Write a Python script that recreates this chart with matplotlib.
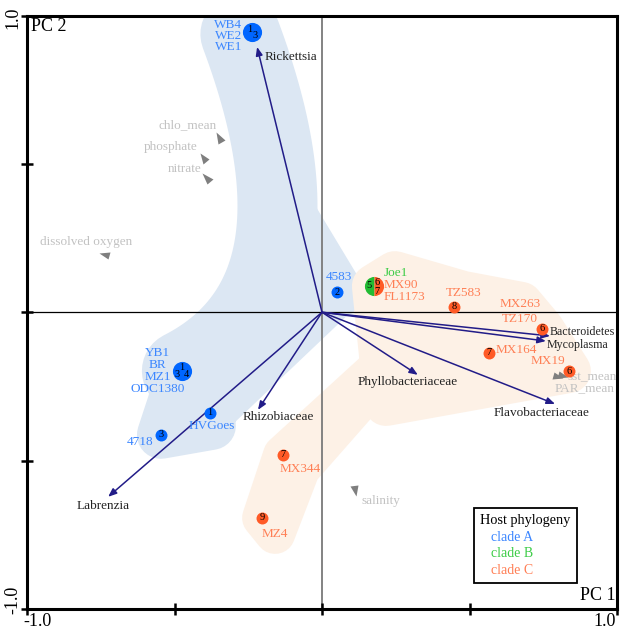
import numpy as np
import matplotlib
matplotlib.use("Agg")
import matplotlib.pyplot as plt
from matplotlib.lines import Line2D
from matplotlib.markers import MarkerStyle
from matplotlib.transforms import Affine2D
from matplotlib.patches import Polygon

plt.rcParams['font.family'] = ['Liberation Serif', 'DejaVu Serif']

# site groups (PCA scores)
groups = ['WB4', '4583', 'YB1', 'HVGoes', '4718', 'Joe1',
          'TZ583', 'MX263', 'MX164', 'MX19', 'MX344', 'MZ4']
pc1 = [-0.236, 0.051, -0.475, -0.380, -0.546, 0.176,
       0.447, 0.746, 0.566, 0.837, -0.132, -0.203]
pc2 = [0.944, 0.068, -0.198, -0.339, -0.413, 0.088,
       0.018, -0.056, -0.137, -0.198, -0.481, -0.693]
members = [['WB4', 'WE2', 'WE1'], ['4583'], ['YB1', 'BR', 'MZ1', 'ODC1380'],
           ['HVGoes'], ['4718'], ['Joe1', 'MX90', 'FL1173'], ['TZ583'],
           ['MX263', 'TZ170'], ['MX164'], ['MX19'], ['MX344'], ['MZ4']]
member_clade = [['A', 'A', 'A'], ['A'], ['A', 'A', 'A', 'A'], ['A'], ['A'],
                ['B', 'C', 'C'], ['C'], ['C', 'C'], ['C'], ['C'], ['C'], ['C']]
genotypes = [['1', '3'], ['2'], ['1', '3', '4'], ['1'], ['3'], ['5', '6', '7'],
             ['8'], ['6'], ['7'], ['6'], ['7'], ['9']]

# bacterial taxa vectors
taxa = ['Rickettsia', 'Labrenzia', 'Rhizobiaceae', 'Phyllobacteriaceae',
        'Flavobacteriaceae', 'Bacteroidetes', 'Mycoplasma']
taxa_x = [-0.220, -0.725, -0.217, 0.325, 0.790, 0.773, 0.759]
taxa_y = [0.894, -0.622, -0.329, -0.211, -0.309, -0.080, -0.097]

# environmental vectors
env = ['chlo_mean', 'phosphate', 'nitrate', 'dissolved oxygen',
       'sst_mean', 'PAR_mean', 'salinity']
env_x = [-0.349, -0.403, -0.393, -0.739, 0.817, 0.800, 0.112]
env_y = [0.591, 0.523, 0.456, 0.196, -0.215, -0.218, -0.602]

clades = ['clade A', 'clade B', 'clade C']
pt_col = {'A': '#0066ff', 'B': '#22bb33', 'C': '#ff5a26'}
txt_col = {'A': '#3b86ff', 'B': '#3ccc46', 'C': '#ff7f55'}
hull_col = {'A': '#dce7f3', 'C': '#fdf1e6'}
navy = '#221c88'

fig = plt.figure(figsize=(6.2, 6.31), dpi=100)
ax = fig.add_axes([27/620, 22/631, 590/620, 593.5/631])
ax.set_xlim(-1, 1)
ax.set_ylim(-1, 1)

PX = 2/590
PY = 2/593.5
pos = {g: np.array([x, y]) for g, x, y in zip(groups, pc1, pc2)}


def shift(p, dx, dy):
    # dx, dy in pixels, dy downwards
    return np.array([p[0] + dx*PX, p[1] - dy*PY])


def blob(pts, r, color, fill=True):
    pts = np.asarray(pts)
    lw = 2*r*0.72
    if fill:
        ax.add_patch(Polygon(pts, closed=True, fc=color, ec=color, lw=lw,
                             joinstyle='round', zorder=0.5))
    else:
        ax.plot(pts[:, 0], pts[:, 1], color=color, lw=lw,
                solid_capstyle='round', solid_joinstyle='round', zorder=0.5)


# hull of clade A
t = np.linspace(0, 1, 60)[:, None]
start = shift(pos['WB4'], -12, 2)
bez = (1-t)**2*start + 2*t*(1-t)*pos['4583'] + t**2*pos['YB1']
blob(bez, 40, hull_col['A'], fill=False)
b35 = 0.65**2*start + 2*0.35*0.65*pos['4583'] + 0.35**2*pos['YB1']
blob([pos['4583'], b35], 26, hull_col['A'], fill=False)
blob([pos['4583'], pos['HVGoes'], shift(pos['HVGoes'], 2, 13),
      pos['4718'], pos['YB1']], 24, hull_col['A'])

# hull of clade C
low = (pos['MX164'] + pos['MX344'])/2
top = (pos['Joe1'] + pos['MX164'])/2
blob([pos['Joe1'], shift(pos['Joe1'], 21, -13), shift(pos['TZ583'], 9, -14),
      shift(pos['MX263'], -21, -25), pos['MX263'], pos['MX19'], low],
     22, hull_col['C'])
blob([top, shift(pos['MX344'], 17, 14), shift(pos['MZ4'], 13, 16),
      pos['MZ4'], pos['MX344']], 20, hull_col['C'])

ax.axvline(0, color='#7a7a7a', lw=1.3, zorder=1)
ax.axhline(0, color='black', lw=0.9, zorder=1)

# taxa arrows
tax_lab = {'Rickettsia': (8, 10, 'left', 9.5), 'Labrenzia': (-5, 9, 'center', 9.5),
           'Rhizobiaceae': (20, 7, 'center', 9.5),
           'Phyllobacteriaceae': (-10, 7, 'center', 9.5),
           'Flavobacteriaceae': (-14, 9, 'center', 9.5),
           'Bacteroidetes': (0, -4, 'left', 8.6), 'Mycoplasma': (1, 4, 'left', 8.6)}
for name, x, y in zip(taxa, taxa_x, taxa_y):
    ax.annotate('', xy=(x, y), xytext=(0, 0), zorder=2,
                arrowprops=dict(arrowstyle='-|>,head_length=0.5,head_width=0.2',
                                color=navy, lw=1.1, shrinkA=0, shrinkB=0))
    dx, dy, ha, fs = tax_lab[name]
    ax.annotate(name, (x, y), xytext=(dx*0.72, -dy*0.72),
                textcoords='offset points', ha=ha, va='center',
                fontsize=fs, color='#222222', zorder=4)

# environmental arrowheads
env_lab = {'chlo_mean': (-2, -12, 'right'), 'phosphate': (-6, -10, 'right'),
           'nitrate': (-5, -8, 'right'), 'dissolved oxygen': (-18, -12, 'center'),
           'sst_mean': (4, 1, 'left'), 'PAR_mean': (-3, 11, 'left'),
           'salinity': (6, 10, 'left')}
for name, x, y in zip(env, env_x, env_y):
    ang = np.degrees(np.arctan2(y, x))
    m = MarkerStyle('^', transform=Affine2D().scale(0.8, 1.15).rotate_deg(ang - 90))
    ax.plot(x, y, marker=m, ms=7, color='#7f7f7f', mec='none', zorder=2)
    dx, dy, ha = env_lab[name]
    ax.annotate(name, (x, y), xytext=(dx*0.72, -dy*0.72),
                textcoords='offset points', ha=ha, va='center',
                fontsize=9.5, color='#c2c2c2', zorder=2.5)

# site points, genotype numbers and names
name_lay = {'WB4': (-10, -7.5, 11, 'right'), '4583': (2, -15, 12, 'center'),
            'YB1': (-24, -18.5, 12.2, 'center'), 'HVGoes': (2, 13, 12, 'center'),
            '4718': (-21, 7, 12, 'center'), 'Joe1': (10, -13, 12, 'left'),
            'TZ583': (9.5, -14, 12, 'center'), 'MX263': (-22, -25, 15, 'center'),
            'MX164': (7, -3, 12, 'left'), 'MX19': (-21, -10, 12, 'center'),
            'MX344': (17, 14, 12, 'center'), 'MZ4': (13, 16, 12, 'center')}
num_lay = {'WB4': [(-3, -3), (3, 3)], 'YB1': [(0, -4), (-5, 3), (5, 3)],
           'Joe1': [(-5, -1), (3, -4), (3, 5)]}

for g, x, y, names, cl, nums in zip(groups, pc1, pc2, members, member_clade, genotypes):
    ms = 8.6 if len(nums) == 1 else 13.8
    if len(set(cl)) > 1:
        ax.plot(x, y, 'o', ms=ms, fillstyle='left', mfc=pt_col[cl[0]],
                mfcalt=pt_col[cl[1]], mec='none', zorder=3)
    else:
        ax.plot(x, y, 'o', ms=ms, color=pt_col[cl[0]], mec='none', zorder=3)
    for n, (dx, dy) in zip(nums, num_lay.get(g, [(0, 0)])):
        ax.annotate(n, (x, y), xytext=(dx*0.72, -dy*0.72), textcoords='offset points',
                    ha='center', va='center', fontsize=7.5, color='black', zorder=4)
    dx, dy0, sp, ha = name_lay[g]
    for i, (nm, c) in enumerate(zip(names, cl)):
        ax.annotate(nm, (x, y), xytext=(dx*0.72, -(dy0 + i*sp)*0.72),
                    textcoords='offset points', ha=ha, va='center',
                    fontsize=9.5, color=txt_col[c], zorder=4)

# axes frame
ax.set_xticks([-1, -0.5, 0, 0.5, 1])
ax.set_yticks([-1, -0.5, 0, 0.5, 1])
ax.set_xticklabels([])
ax.set_yticklabels([])
ax.tick_params(direction='inout', length=8, width=1.8, color='black')
for s in ax.spines.values():
    s.set_linewidth(2.2)

fig.text(37/620, 1 - 622/631, '-1.0', ha='center', va='center', fontsize=13)
fig.text(605/620, 1 - 622/631, '1.0', ha='center', va='center', fontsize=13)
fig.text(13/620, 1 - 18/631, '1.0', ha='center', va='center', fontsize=13, rotation=90)
fig.text(13/620, 1 - 600/631, '-1.0', ha='center', va='center', fontsize=13, rotation=90)
ax.text(0.007, 0.981, 'PC 2', transform=ax.transAxes, ha='left', va='center', fontsize=13)
ax.text(0.997, 0.022, 'PC 1', transform=ax.transAxes, ha='right', va='center', fontsize=13)

handles = [Line2D([], [], ls='none') for _ in clades]
leg = ax.legend(handles, clades, title='Host phylogeny', loc='lower right',
                bbox_to_anchor=(0.932, 0.044), borderaxespad=0, handlelength=0,
                handletextpad=0.8, labelcolor=[txt_col['A'], txt_col['B'], txt_col['C']],
                fontsize=10, title_fontsize=10.3, fancybox=False, framealpha=1,
                edgecolor='black', labelspacing=0.25, borderpad=0.45)
leg.get_frame().set_linewidth(1.3)
leg._legend_box.align = 'left'
leg.set_zorder(5)

fig.savefig('out.png', dpi=100)
